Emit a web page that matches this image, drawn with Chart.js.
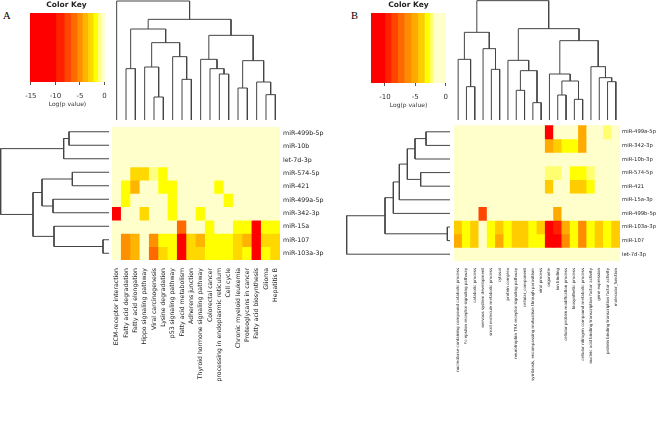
<!DOCTYPE html>
<html>
<head>
<meta charset="utf-8">
<script src="https://cdn.jsdelivr.net/npm/chart.js@4.4.0/dist/chart.umd.min.js"></script>
<style>
  body { margin: 0; background: #fff; width: 658px; height: 445px; position: relative; overflow: hidden; }
  canvas { position: absolute; }
  .letter { position: absolute; font-family: "Liberation Serif", serif; font-size: 10.5px; line-height: 11px; color: #000; }
</style>
</head>
<body>
<div class="letter" style="left:3px;top:10px">A</div>
<div class="letter" style="left:351px;top:10px">B</div>

<canvas id="keyA" width="97" height="108" style="left:18px;top:0px"></canvas>
<canvas id="colDendA" width="168" height="120" style="left:112px;top:0px"></canvas>
<canvas id="rowDendA" width="109" height="135" style="left:0px;top:125px"></canvas>
<canvas id="heatA" width="234" height="265" style="left:106px;top:120px"></canvas>

<canvas id="keyB" width="95" height="109" style="left:361px;top:0px"></canvas>
<canvas id="colDendB" width="166" height="120" style="left:454px;top:0px"></canvas>
<canvas id="rowDendB" width="120" height="136" style="left:330px;top:125px"></canvas>
<canvas id="heatB" width="210" height="265" style="left:448px;top:120px"></canvas>

<script>
// ---- panel A data ----
const aColumns = ["ECM-receptor interaction", "Fatty acid degradation", "Fatty acid elongation",
  "Hippo signaling pathway", "Viral carcinogenesis", "Lysine degradation", "p53 signaling pathway",
  "Fatty acid metabolism", "Adherens junction", "Thyroid hormone signaling pathway", "Colorectal cancer",
  "processing in endoplasmic reticulum", "Cell cycle", "Chronic myeloid leukemia",
  "Proteoglycans in cancer", "Fatty acid biosynthesis", "Glioma", "Hepatitis B"];
const aRows = ["miR-499b-5p", "miR-10b", "let-7d-3p", "miR-574-5p", "miR-421", "miR-499a-5p",
  "miR-342-3p", "miR-15a", "miR-107", "miR-103a-3p"];
// log(p value) per row, one entry per column
const aValues = [
  [0, 0, 0, 0, 0, 0, 0, 0, 0, 0, 0, 0, 0, 0, 0, 0, 0, 0],
  [0, 0, 0, 0, 0, 0, 0, 0, 0, 0, 0, 0, 0, 0, 0, 0, 0, 0],
  [0, 0, 0, 0, 0, 0, 0, 0, 0, 0, 0, 0, 0, 0, 0, 0, 0, 0],
  [0, 0, -2.8, -2.8, -1.1, -1.8, 0, 0, 0, 0, 0, 0, 0, 0, 0, 0, 0, 0],
  [0, -1.8, -4, 0, 0, -1.8, -1.8, 0, 0, 0, 0, -1.8, 0, 0, 0, 0, 0, 0],
  [0, -1.8, 0, 0, 0, 0, -1.8, 0, 0, 0, 0, 0, -1.8, 0, 0, 0, 0, 0],
  [-12, 0, 0, -2.8, 0, 0, -1.8, 0, 0, -1.8, 0, 0, 0, 0, 0, 0, 0, 0],
  [0, 0, 0, 0, 0, 0, 0, -6, 0, 0, -1.8, 0, 0, -1.8, -1.8, -12, -1.8, -1.8],
  [0, -5, -4, 0, -5, -1.8, -1.8, -12, -2.8, -4, -1.8, -1.8, -1.8, -2.8, -4, -12, -2.8, -2.8],
  [0, -5, -4, 0, -6.2, -2.8, -1.8, -12, -2.8, -2.8, -1.8, -1.8, -1.8, -2.8, -1.8, -12, -1.8, -2.8]
];
const aKeyEdges = [-15.2, -9.9, -8.2, -6.9, -5.6, -4.5, -3.4, -2.3, -1.4, -0.8, 0.1];
const aKeyColors = ["#FF0000", "#FF2000", "#FF4500", "#FF6A00", "#FF9000", "#FFB400", "#FFD800", "#FFFF00", "#FFFF80", "#FFFFCC"];
const aKeyTicks = [-15, -10, -5, 0];
// dendrograms, hclust style: negative = leaf number (1-based), positive = earlier merge
const aColMerges = [
  [-5, -6, 69], [-17, -18, 76], [-14, -15, 96], [-16, 2, 114], [-8, -9, 122], [-12, -13, 138],
  [-2, -3, 154], [-11, 6, 154], [-4, 1, 159], [3, 4, 178], [-10, 8, 182], [-7, 5, 190],
  [9, 12, 232], [11, 10, 254], [7, 13, 273], [15, 14, 302], [-1, 16, 357]
];
const aRowMerges = [
  [-9, -10, 18], [-4, -5, 110], [-1, -2, 120], [3, -3, 136], [-6, -7, 168], [-8, 1, 165],
  [2, 5, 201], [7, 6, 228], [4, 8, 325]
];

// ---- panel B data ----
const bColumns = ["nucleobase-containing compound catabolic process", "Fc-epsilon receptor signaling pathway",
  "catabolic process", "nervous system development", "small molecule metabolic process", "cytosol",
  "protein complex", "neurotrophin TRK receptor signaling pathway", "cellular_component",
  "symbiosis, encompassing mutualism through parasitism", "viral process", "organelle", "ion binding",
  "cellular protein modification process", "biosynthetic process",
  "cellular nitrogen compound metabolic process", "nucleic acid binding transcription factor activity",
  "gene expression", "protein binding transcription factor activity", "molecular_function"];
const bRows = ["miR-499a-5p", "miR-342-3p", "miR-10b-3p", "miR-574-5p", "miR-421", "miR-15a-3p",
  "miR-499b-5p", "miR-103a-3p", "miR-107", "let-7d-3p"];
const bValues = [
  [0, 0, 0, 0, 0, 0, 0, 0, 0, 0, 0, -11, 0, 0, 0, -5, 0, 0, -2.3, 0],
  [0, 0, 0, 0, 0, 0, 0, 0, 0, 0, 0, -5, -4, -3, -3, -5, 0, 0, 0, 0],
  [0, 0, 0, 0, 0, 0, 0, 0, 0, 0, 0, 0, 0, 0, 0, 0, 0, 0, 0, 0],
  [0, 0, 0, 0, 0, 0, 0, 0, 0, 0, 0, -2.3, -2.3, 0, -3, -3, -2.3, 0, 0, 0],
  [0, 0, 0, 0, 0, 0, 0, 0, 0, 0, 0, -4, 0, 0, -4, -4, -3, 0, 0, 0],
  [0, 0, 0, 0, 0, 0, 0, 0, 0, 0, 0, 0, 0, 0, 0, 0, 0, 0, 0, 0],
  [0, 0, 0, -8.5, 0, 0, 0, 0, 0, 0, 0, 0, -5, 0, 0, 0, 0, 0, 0, 0],
  [-4, -3, -4, 0, -3, -4, -3, -4, -4, -3, -3.6, -11, -9.5, -5, -3, -6.2, -3, -4, -3, -4],
  [-5, -3, -4, 0, -3, -5, -3, -4, -4, -3, -3, -11, -10.5, -6.2, -3, -6.2, -3, -4, -3, -3.6],
  [0, 0, 0, 0, 0, 0, 0, 0, 0, 0, 0, 0, 0, 0, 0, 0, 0, 0, 0, 0]
];
const bKeyEdges = [-12.3, -10, -9, -7.9, -6.8, -5.7, -4.6, -3.5, -2.6, -2.1, 0.05];
const bKeyColors = ["#FF0000", "#FF2000", "#FF4500", "#FF6A00", "#FF8C00", "#FFAA00", "#FFCC00", "#FFFF00", "#FFFF70", "#FFFFCC"];
const bKeyTicks = [-10, -5, 0];
const bColMerges = [
  [-10, -11, 52], [-15, -16, 62], [-13, -14, 75], [-8, -9, 89], [-2, -3, 100], [-19, -20, 115],
  [3, 2, 117], [-18, 6, 127], [-12, 7, 138], [4, 1, 148], [-5, -6, 152], [-17, 8, 160],
  [-7, 10, 179], [-1, 5, 182], [-4, 11, 214], [9, 12, 238], [14, 15, 263], [13, 16, 274], [17, 18, 358]
];
const bRowMerges = [
  [-8, -9, 8], [-1, -2, 72], [-4, -5, 88], [2, -3, 105], [4, 3, 128], [5, -6, 152],
  [6, -7, 170], [7, 1, 195], [8, -10, 310]
];

Chart.defaults.font.family = '"DejaVu Sans", sans-serif';
Chart.defaults.animation = false;

function binColor(v, edges, colors) {
  for (let i = 0; i < colors.length; i++) {
    if (v < edges[i + 1]) return colors[i];
  }
  return colors[colors.length - 1];
}

function dendroSegments(merges) {
  const pos = [], hts = [], segs = [];
  const at = k => k < 0 ? [-k - 1, 0] : [pos[k - 1], hts[k - 1]];
  merges.forEach(([a, b, h]) => {
    const [pa, ha] = at(a), [pb, hb] = at(b);
    segs.push([[pa, ha], [pa, h], [pb, h], [pb, hb]]);
    pos.push((pa + pb) / 2);
    hts.push(h);
  });
  return segs;
}

function dendroChart(id, merges, nLeaves, hMax, sideways) {
  const segs = dendroSegments(merges);
  new Chart(document.getElementById(id), {
    type: "scatter",
    data: {
      datasets: segs.map(s => ({
        data: s.map(([p, h]) => sideways ? { x: h, y: p } : { x: p, y: h }),
        showLine: true,
        pointRadius: 0,
        borderColor: "#444",
        borderWidth: 1,
        clip: false
      }))
    },
    options: {
      responsive: false,
      events: [],
      layout: { padding: 0 },
      plugins: { legend: { display: false }, tooltip: { enabled: false } },
      scales: sideways ? {
        x: { type: "linear", display: false, min: 0, max: hMax, reverse: true },
        y: { type: "linear", display: false, min: -0.5, max: nLeaves - 0.5, reverse: true }
      } : {
        x: { type: "linear", display: false, min: -0.5, max: nLeaves - 0.5 },
        y: { type: "linear", display: false, min: 0, max: hMax }
      }
    }
  });
}

function heatChart(id, cols, rows, values, edges, colors, o) {
  new Chart(document.getElementById(id), {
    type: "bar",
    data: {
      labels: cols,
      datasets: rows.map((r, i) => ({
        label: r,
        data: cols.map(() => [i, i + 1]),
        backgroundColor: values[i].map(v => binColor(v, edges, colors)),
        borderWidth: 0,
        barPercentage: 1,
        categoryPercentage: 1,
        grouped: false,
        inflateAmount: 0.4
      }))
    },
    options: {
      responsive: false,
      events: [],
      layout: { padding: { left: 6, top: 5, right: 0, bottom: 0 } },
      plugins: { legend: { display: false }, tooltip: { enabled: false } },
      scales: {
        x: {
          type: "category",
          offset: true,
          grid: { display: false, drawTicks: false },
          border: { display: false },
          ticks: { autoSkip: false, minRotation: 90, maxRotation: 90, padding: o.colPad,
                   font: { size: o.colFont }, color: "#222" },
          afterFit: s => { s.height = o.xh; }
        },
        y: { type: "linear", display: false, min: 0, max: rows.length, reverse: true },
        yr: {
          type: "category",
          labels: rows,
          position: "right",
          offset: true,
          grid: { display: false, drawTicks: false },
          border: { display: false },
          ticks: { autoSkip: false, padding: o.rowPad, font: { size: o.rowFont }, color: "#222" },
          afterFit: s => { s.width = o.yw; }
        }
      }
    }
  });
}

function keyChart(id, edges, colors, ticks) {
  new Chart(document.getElementById(id), {
    type: "bar",
    data: {
      labels: [""],
      datasets: colors.map((c, i) => ({
        data: [[edges[i], edges[i + 1]]],
        backgroundColor: c,
        borderWidth: 0,
        barPercentage: 1,
        categoryPercentage: 1,
        grouped: false,
        inflateAmount: 0.3
      }))
    },
    options: {
      indexAxis: "y",
      responsive: false,
      events: [],
      layout: { padding: { left: 10, right: 10, top: 0, bottom: 0 } },
      plugins: {
        legend: { display: false },
        tooltip: { enabled: false },
        title: { display: true, text: "Color Key", color: "#222",
                 font: { size: 7.5, weight: "bold" }, padding: { top: 1, bottom: 3 } }
      },
      scales: {
        y: { type: "category", display: false },
        x: {
          type: "linear",
          min: edges[0],
          max: edges[edges.length - 1],
          afterBuildTicks: s => { s.ticks = ticks.map(v => ({ value: v })); },
          grid: { drawOnChartArea: false, drawTicks: true, tickLength: 3, color: "#555" },
          border: { display: false },
          ticks: { font: { size: 7 }, color: "#333", padding: 7, maxRotation: 0 },
          title: { display: true, text: "Log(p value)", color: "#333", font: { size: 6 },
                   padding: { top: 0, bottom: 0 } },
          afterFit: s => { s.height = 26; }
        }
      }
    }
  });
}

keyChart("keyA", aKeyEdges, aKeyColors, aKeyTicks);
dendroChart("colDendA", aColMerges, aColumns.length, 360, false);
dendroChart("rowDendA", aRowMerges, aRows.length, 327, true);
heatChart("heatA", aColumns, aRows, aValues, aKeyEdges, aKeyColors,
  { colPad: 8, colFont: 6.2, rowPad: 3, rowFont: 6.3, xh: 125, yw: 60 });

keyChart("keyB", bKeyEdges, bKeyColors, bKeyTicks);
dendroChart("colDendB", bColMerges, bColumns.length, 360, false);
dendroChart("rowDendB", bRowMerges, bRows.length, 360, true);
heatChart("heatB", bColumns, bRows, bValues, bKeyEdges, bKeyColors,
  { colPad: 7, colFont: 4, rowPad: 2, rowFont: 5.3, xh: 124, yw: 38 });
</script>
</body>
</html>
